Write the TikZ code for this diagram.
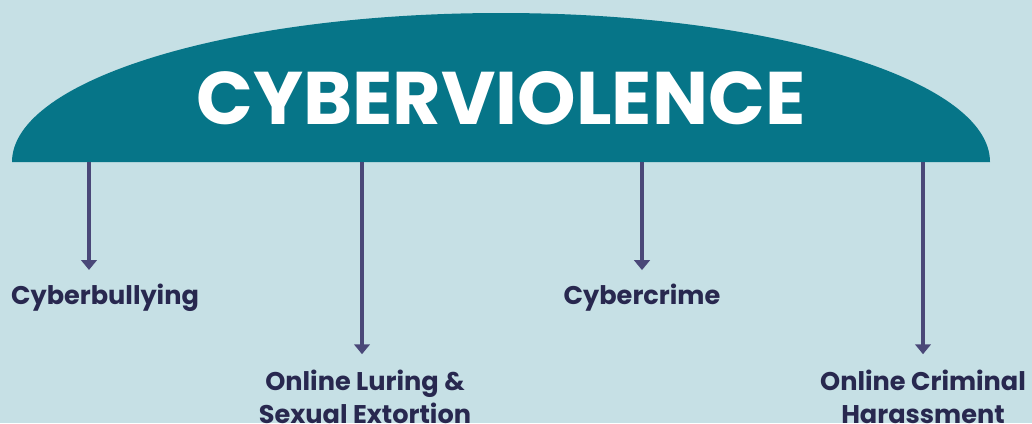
\documentclass[tikz,border=0pt]{standalone}
\usepackage{fontspec}
\setmainfont{Poppins}
\usepackage{xcolor}
\usetikzlibrary{arrows.meta,calc}
\definecolor{bgblue}{HTML}{C6E0E5}
\definecolor{dometeal}{HTML}{067588}
\definecolor{arrowgrey}{HTML}{4A4878}
\definecolor{labelink}{HTML}{28284F}
\tikzset{
  leaf/.style={font=\bfseries\fontsize{18.2}{23}\selectfont,text=labelink,align=center,inner sep=0pt},
  branch/.style={arrowgrey,line width=2.2pt,-{Triangle[width=11pt,length=7pt]}}
}
\begin{document}
\begin{tikzpicture}[x=0.025cm,y=-0.025cm]
\fill[bgblue](0,0)rectangle(1032,423);
\useasboundingbox(0,0)rectangle(1032,423);
% dome
\fill[dometeal](12,162)arc[start angle=180,end angle=360,x radius=489,y radius=149]--cycle;
\node[font=\bfseries\fontsize{53}{60}\selectfont,text=white] (title) at (501,98) {CYBERVIOLENCE};
% branch roots
\coordinate (r1) at (89,162);
\coordinate (r2) at (362,162);
\coordinate (r3) at (642,162);
\coordinate (r4) at (923,162);
% labels
\node[leaf] (bully) at (105,298) {Cyberbullying};
\node[leaf] (luring) at (365,397) {Online Luring \&\\Sexual Extortion};
\node[leaf] (crime) at (642,298) {Cybercrime};
\node[leaf] (harass) at (923,397) {Online Criminal\\Harassment};
% arrows
\draw[branch](r1)--($(r1|-bully.north)+(0,-14)$);
\draw[branch](r2)--($(r2|-luring.north)+(0,-16)$);
\draw[branch](r3)--($(r3|-crime.north)+(0,-14)$);
\draw[branch](r4)--($(r4|-harass.north)+(0,-16)$);
\end{tikzpicture}
\end{document}
